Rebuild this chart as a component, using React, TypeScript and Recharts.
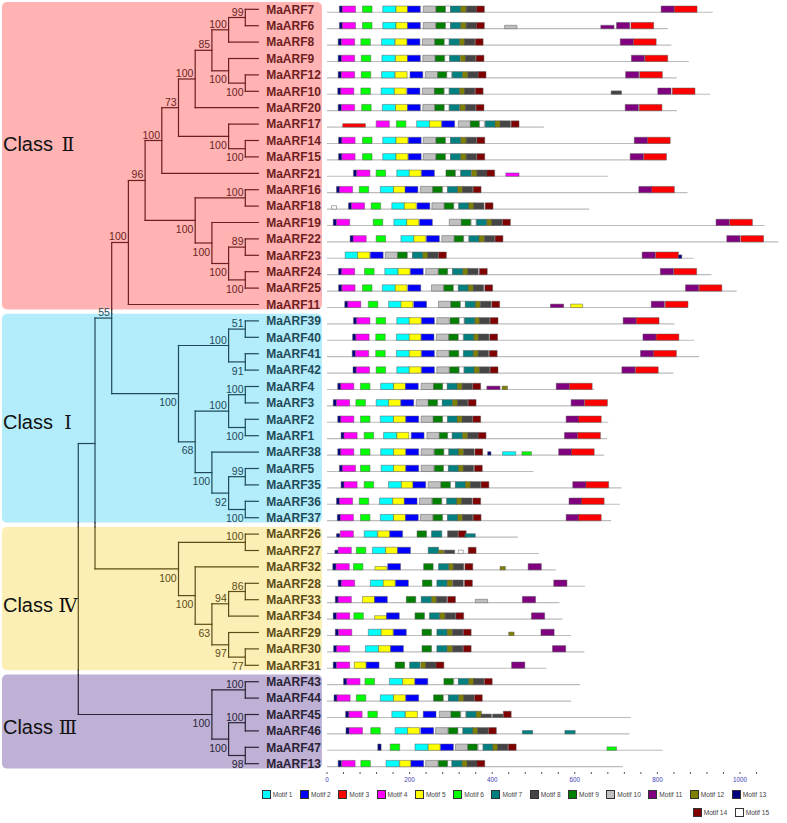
import React from 'react';
import { ComposedChart, XAxis, YAxis, ReferenceArea, ReferenceLine, Scatter, Legend } from 'recharts';

// ---------------- DATA ----------------
const GENES = ['MaARF7','MaARF6','MaARF8','MaARF9','MaARF12','MaARF10','MaARF20','MaARF17','MaARF14','MaARF15','MaARF21','MaARF16','MaARF18','MaARF19','MaARF22','MaARF23','MaARF24','MaARF25','MaARF11','MaARF39','MaARF40','MaARF41','MaARF42','MaARF4','MaARF3','MaARF2','MaARF1','MaARF38','MaARF5','MaARF35','MaARF36','MaARF37','MaARF26','MaARF27','MaARF32','MaARF28','MaARF33','MaARF34','MaARF29','MaARF30','MaARF31','MaARF43','MaARF44','MaARF45','MaARF46','MaARF47','MaARF13'];

const PROTEIN_LENGTHS = [934,825,834,876,847,928,847,525,831,822,680,873,635,1060,1093,888,931,992,874,841,889,901,839,647,678,681,678,671,500,713,709,688,462,513,554,625,563,570,591,623,531,613,591,736,732,813,716];

const MOTIF_IDS = [1,2,3,4,5,6,7,8,9,10,11,12,13,14,15];
const MOTIF_WIDTHS = [32,31,55,32,29,23,25,25,23,30,32,13,8,19,12];

// [motif, start, weak(1)]
const MOTIF_HITS: number[][][] = [
  /* MaARF7 */ [[13,30],[4,37],[6,86],[1,135],[5,167],[2,195],[10,233],[9,264],[15,287],[7,299],[12,324],[8,337],[14,362],[11,809],[3,841]],
  /* MaARF6 */ [[13,30],[4,37],[6,86],[1,135],[5,167],[2,195],[10,233],[9,264],[15,287],[7,299],[12,324],[8,337],[14,362],[10,430,1],[11,663,1],[11,701],[3,736]],
  /* MaARF8 */ [[13,27],[4,35],[6,82],[1,132],[5,165],[2,194],[10,231],[9,261],[15,284],[7,296],[12,321],[8,333],[14,359],[11,710],[3,742]],
  /* MaARF9 */ [[13,27],[4,35],[6,83],[1,133],[5,166],[2,195],[10,232],[9,262],[15,285],[7,297],[12,323],[8,335],[14,361],[11,737],[3,770]],
  /* MaARF12 */ [[13,27],[4,35],[6,83],[1,132],[5,165],[2,201],[10,238],[9,268],[15,290],[7,303],[12,328],[8,341],[14,366],[11,723],[3,757]],
  /* MaARF10 */ [[13,26],[4,33],[6,82],[1,131],[5,163],[2,194],[10,231],[9,260],[15,284],[7,296],[12,321],[8,333],[14,359],[8,688,1],[11,801],[3,836]],
  /* MaARF20 */ [[13,27],[4,35],[6,84],[1,134],[5,166],[2,195],[10,232],[9,261],[15,284],[7,296],[12,322],[8,335],[14,361],[11,722],[3,756]],
  /* MaARF17 */ [[3,38,1],[4,119],[6,168],[1,217],[5,248],[2,278],[10,318],[9,347],[15,369],[7,383],[12,407],[8,419],[14,446]],
  /* MaARF14 */ [[13,28],[4,36],[6,86],[1,135],[5,167],[2,197],[10,233],[9,264],[15,287],[7,299],[12,324],[8,337],[14,363],[11,744],[3,776]],
  /* MaARF15 */ [[13,28],[4,36],[6,86],[1,135],[5,167],[2,197],[10,233],[9,264],[15,287],[7,299],[12,324],[8,337],[14,363],[11,734],[3,767]],
  /* MaARF21 */ [[13,64],[4,72],[6,119],[1,169],[5,199],[2,229],[9,288],[15,311],[7,324],[12,350],[8,363],[14,387],[4,433,1]],
  /* MaARF16 */ [[13,23],[4,30],[6,78],[1,129],[5,161],[2,189],[10,226],[9,256],[15,280],[7,292],[12,316],[8,328],[14,354],[11,755],[3,786]],
  /* MaARF18 */ [[15,11,1],[13,52],[4,59],[6,107],[1,157],[5,187],[2,218],[10,254],[9,284],[15,307],[7,319],[12,343],[8,355],[14,383]],
  /* MaARF19 */ [[13,15],[4,23],[6,112],[1,162],[5,193],[2,224],[10,296],[9,325],[15,349],[7,362],[12,387],[8,399],[14,425],[11,942],[3,975]],
  /* MaARF22 */ [[13,56],[4,63],[6,119],[1,179],[5,210],[2,241],[10,278],[9,308],[15,331],[7,344],[12,368],[8,381],[14,407],[11,968],[3,1002]],
  /* MaARF23 */ [[1,44],[5,74],[2,105],[10,141],[9,171],[15,195],[7,207],[12,232],[8,244],[14,270],[11,763],[3,796],[13,851,1]],
  /* MaARF24 */ [[13,28],[4,35],[6,91],[1,140],[5,172],[2,202],[10,239],[9,270],[15,292],[7,304],[12,329],[8,341],[14,369],[11,807],[3,840]],
  /* MaARF25 */ [[13,28],[4,36],[6,86],[1,134],[5,165],[2,196],[10,253],[9,283],[15,306],[7,318],[12,342],[8,354],[14,382],[11,868],[3,901]],
  /* MaARF11 */ [[13,43],[4,50],[6,100],[1,149],[5,179],[2,210],[10,270],[9,300],[15,323],[7,335],[12,359],[8,372],[14,399],[11,541,1],[5,590,1],[11,785],[3,819]],
  /* MaARF39 */ [[13,64],[4,72],[6,119],[1,169],[5,199],[2,229],[10,266],[9,298],[15,320],[7,333],[12,358],[8,369],[14,395],[11,717],[3,749]],
  /* MaARF40 */ [[13,62],[4,70],[6,118],[1,168],[5,199],[2,228],[10,265],[9,295],[15,318],[7,331],[12,355],[8,367],[14,394],[11,765],[3,797]],
  /* MaARF41 */ [[13,61],[4,69],[6,118],[1,168],[5,199],[2,229],[10,266],[9,296],[7,330],[12,354],[8,366],[14,393],[11,759],[3,791]],
  /* MaARF42 */ [[13,63],[4,71],[6,119],[1,169],[5,199],[2,229],[10,266],[9,297],[15,320],[7,332],[12,356],[8,369],[14,395],[11,714],[3,747]],
  /* MaARF4 */ [[13,26],[4,33],[6,81],[1,130],[5,161],[2,190],[10,228],[9,258],[15,280],[7,291],[12,315],[8,327],[14,353],[11,387,1],[12,424,1],[11,555],[3,587]],
  /* MaARF3 */ [[13,15],[4,23],[6,70],[1,119],[5,149],[2,179],[10,216],[9,245],[15,268],[7,279],[12,304],[8,316],[14,342],[11,591],[3,624]],
  /* MaARF2 */ [[13,26],[4,33],[6,81],[1,129],[5,161],[2,191],[10,228],[9,257],[15,280],[7,292],[12,315],[8,327],[14,353],[11,579],[3,609]],
  /* MaARF1 */ [[13,34],[4,41],[6,90],[1,137],[5,169],[2,204],[10,242],[9,272],[15,292],[7,303],[12,328],[8,341],[14,366],[11,575],[3,607]],
  /* MaARF38 */ [[13,26],[4,33],[6,81],[1,130],[5,161],[2,191],[10,228],[9,260],[15,283],[7,295],[12,318],[8,331],[14,358],[13,389,1],[1,425,1],[6,472,1],[11,561],[3,592]],
  /* MaARF5 */ [[13,30],[4,37],[6,81],[1,131],[5,161],[2,191],[10,228],[9,260],[15,282],[7,294],[12,318],[8,330],[14,357]],
  /* MaARF35 */ [[13,34],[4,41],[6,90],[1,149],[5,180],[2,208],[10,245],[9,276],[15,299],[7,311],[12,335],[8,347],[14,373],[11,595],[3,627]],
  /* MaARF36 */ [[13,23],[4,30],[6,78],[1,127],[5,159],[2,187],[10,224],[9,255],[15,278],[7,290],[12,314],[8,326],[14,353],[11,586],[3,616]],
  /* MaARF37 */ [[13,25],[4,32],[6,81],[1,129],[5,161],[2,190],[10,226],[9,257],[15,280],[7,292],[12,316],[8,328],[14,354],[11,579],[3,609]],
  /* MaARF26 */ [[13,23,1],[4,32],[1,90],[5,123],[2,152],[9,218],[7,253],[8,292],[14,318],[7,334,1]],
  /* MaARF27 */ [[13,19,1],[4,27],[6,71],[1,110],[5,142],[2,171],[7,245],[12,270,1],[8,284,1],[15,318,1],[14,342]],
  /* MaARF32 */ [[13,14],[4,22],[6,64],[5,116,1],[2,147],[9,234],[7,270],[12,295],[8,306],[14,334],[12,419,1],[11,487]],
  /* MaARF28 */ [[13,27],[4,35],[1,105],[5,136],[2,166],[9,231],[7,266],[12,291],[8,305],[14,333],[11,549]],
  /* MaARF33 */ [[13,20],[4,27],[5,86],[2,115],[9,192],[7,228],[12,253],[8,265],[14,292],[10,359,1],[11,473]],
  /* MaARF34 */ [[13,15],[4,23],[6,65],[5,115,1],[2,144],[9,213],[7,248],[12,273],[8,286],[14,312],[11,495]],
  /* MaARF29 */ [[13,20],[4,28],[1,100],[5,131],[2,161],[9,230],[7,266],[12,291],[8,304],[14,330],[12,440,1],[11,518]],
  /* MaARF30 */ [[13,16],[4,23],[1,93],[5,125],[2,154],[9,230],[7,266],[12,291],[8,304],[14,330],[11,546]],
  /* MaARF31 */ [[13,15],[4,23],[5,66],[2,95],[9,165],[7,200],[12,227],[8,239],[14,264],[11,447]],
  /* MaARF43 */ [[13,40],[4,48],[6,92],[1,151],[5,183],[2,213],[9,283],[15,307],[7,318],[12,343],[8,355],[14,381]],
  /* MaARF44 */ [[13,17],[4,24],[6,71],[1,129],[5,161],[2,191],[9,258],[15,282],[7,294],[12,319],[8,331],[14,357]],
  /* MaARF45 */ [[13,45],[4,53],[6,99],[1,157],[5,190],[2,233],[10,272],[9,300],[15,324],[7,337],[12,361],[8,373,1],[8,401,1],[14,427]],
  /* MaARF46 */ [[13,46],[4,54],[6,106],[1,165],[5,195],[2,227],[10,263],[9,294],[15,317],[7,329],[12,353],[8,365],[14,391],[7,473,1],[7,576,1]],
  /* MaARF47 */ [[13,123],[6,153],[1,213],[5,245],[2,275],[10,311],[9,341],[15,366],[7,378],[12,401],[8,413],[14,439],[6,678,1]],
  /* MaARF13 */ [[13,27],[4,36],[6,82],[1,143],[5,176],[2,203],[10,239],[9,270],[15,292],[7,302],[12,327],[8,339],[14,363]],
];

const AXIS_TICKS = [0,40,80,120,160,200,240,280,320,360,400,440,480,520,560,600,640,680,720,760,800,840,880,920,960,1000,1040];

// tree: node depth (cladogram level), bootstrap, children
type TNode = { d: number; b: number | null; c: (TNode | string)[] };
const n = (d: number, b: number | null, ...c: (TNode | string)[]): TNode => ({ d, b, c });
const TREE: TNode = n(0, null,
  n(1, null,
    n(2, 55,
      n(3, 100,
        n(4, 96,
          n(5, 100,
            n(6, 73,
              n(7, 100,
                n(8, 85,
                  n(9, 100, n(10, 99, 'MaARF7', 'MaARF6'), 'MaARF8'),
                  n(9, 100, 'MaARF9', n(10, 100, 'MaARF12', 'MaARF10'))),
                'MaARF20'),
              n(9, 100, 'MaARF17', n(10, 100, 'MaARF14', 'MaARF15'))),
            'MaARF21'),
          n(7, 100,
            n(10, 100, 'MaARF16', 'MaARF18'),
            n(8, 100, 'MaARF19',
              n(9, 100, n(10, 89, 'MaARF22', 'MaARF23'), n(10, 100, 'MaARF24', 'MaARF25'))))),
        'MaARF11'),
      n(6, 100,
        n(9, 100, n(10, 51, 'MaARF39', 'MaARF40'), n(10, 91, 'MaARF41', 'MaARF42')),
        n(7, 68,
          n(9, 100, n(10, 100, 'MaARF4', 'MaARF3'), n(10, 100, 'MaARF2', 'MaARF1')),
          n(8, 100, 'MaARF38', n(9, 92, n(10, 99, 'MaARF5', 'MaARF35'), n(10, 100, 'MaARF36', 'MaARF37')))))),
    n(6, 100,
      n(10, 100, 'MaARF26', 'MaARF27'),
      n(7, 100, 'MaARF32',
        n(8, 63,
          n(9, 94, n(10, 86, 'MaARF28', 'MaARF33'), 'MaARF34'),
          n(9, 97, 'MaARF29', n(10, 77, 'MaARF30', 'MaARF31')))))),
  n(8, 100,
    n(10, 100, 'MaARF43', 'MaARF44'),
    n(9, 100, n(10, 100, 'MaARF45', 'MaARF46'), n(10, 98, 'MaARF47', 'MaARF13'))));

const CLASS_NUMERALS = ['Ⅱ', 'Ⅰ', 'Ⅳ', 'Ⅲ'];
const CLASS_FIRST = ['MaARF7', 'MaARF39', 'MaARF26', 'MaARF43'];
const CLASS_LAST = ['MaARF11', 'MaARF37', 'MaARF31', 'MaARF13'];

// ---------------- STYLE / LAYOUT ----------------
const W = 787, H = 823;
const MOTIF_COLORS = ['#00ffff','#0000ff','#ff0000','#ff00ff','#ffff00','#00ff00','#008080','#454545','#008000','#c0c0c0','#800080','#808000','#000080','#800000','#ffffff'];
const CLASS_BG = ['#ffb3b3', '#b3ecfa', '#fcefb5', '#bfb1d5'];
const CLASS_INK = ['#6e1e1e', '#1f4b59', '#5c4c16', '#2a2436'];
const GAP_INK = '#333333';
const CLASS_LABEL_ROWS = [8.19, 25.16, 36.32, 43.74];

const TX0 = 78.3, TDX = 16.7;
const TREE_DOMAIN: [number, number] = [-TX0 / TDX, (W - TX0) / TDX];
const MX0 = 327, MDX = 0.413;
const MOTIF_DOMAIN: [number, number] = [-MX0 / MDX, (W - MX0) / MDX];
const PLOT_BOTTOM = 772, AXIS_H = 16;
const ROW_TOP = 9.3, ROW_H = 16.4;
const ROW_DOMAIN: [number, number] = [-ROW_TOP / ROW_H, (PLOT_BOTTOM - ROW_TOP) / ROW_H];
const LEAF_X = 10.78, NAME_X = 11.25, LABEL_X = -4.51;
const BG_X: [number, number] = [-4.57, 14.59];

const rowOf = (g: string) => GENES.indexOf(g);
const REGIONS = CLASS_FIRST.map((f, i) => [rowOf(f) - 0.44, rowOf(CLASS_LAST[i]) + 0.3]);
const regionAt = (y: number) => REGIONS.findIndex(([a, b]) => y >= a && y <= b);
const inkAt = (y: number) => { const r = regionAt(y); return r < 0 ? GAP_INK : CLASS_INK[r]; };

type Seg = { x1: number; y1: number; x2: number; y2: number; c: string };
const SEGS: Seg[] = [];
const BOOTS: { x: number; y: number; b: number; below: boolean }[] = [];
const addH = (x1: number, x2: number, y: number) => SEGS.push({ x1, y1: y, x2, y2: y, c: inkAt(y) });
const addV = (x: number, ya: number, yb: number) => {
  const cuts = [ya];
  REGIONS.forEach(([a, b]) => { [a, b].forEach(v => { if (v > ya && v < yb) cuts.push(v); }); });
  cuts.push(yb);
  cuts.sort((p, q) => p - q);
  for (let i = 0; i < cuts.length - 1; i++) {
    SEGS.push({ x1: x, y1: cuts[i], x2: x, y2: cuts[i + 1], c: inkAt((cuts[i] + cuts[i + 1]) / 2) });
  }
};
function layout(node: TNode | string, parentD: number | null, isLast: boolean): number {
  if (typeof node === 'string') {
    const y = rowOf(node);
    if (parentD !== null) addH(parentD, LEAF_X, y);
    return y;
  }
  const ys = node.c.map((ch, i) => layout(ch, node.d, i === node.c.length - 1));
  const y = (ys[0] + ys[ys.length - 1]) / 2;
  addV(node.d, ys[0], ys[ys.length - 1]);
  if (parentD !== null) addH(parentD, node.d, y);
  if (node.b !== null) BOOTS.push({ x: node.d, y, b: node.b, below: isLast });
  return y;
}
layout(TREE, null, false);

const NAME_POINTS = GENES.map((g, i) => ({ x: NAME_X, y: i, name: g }));
const CLASS_POINTS = CLASS_NUMERALS.map((num, i) => ({ x: LABEL_X, y: CLASS_LABEL_ROWS[i], num, cls: i }));

const FONT = '"Liberation Sans", Arial, sans-serif';

const NameShape = (p: any) => (
  <text x={p.cx} y={p.cy + 4.3} fontFamily={FONT} fontWeight="bold" fontSize={12} fill={inkAt(p.payload.y)}>
    {p.payload.name}
  </text>
);
const BootShape = (p: any) => (
  <text x={p.cx - 1.8} y={p.payload.below ? p.cy + 12.6 : p.cy - 2} textAnchor="end" fontFamily={FONT} fontSize={10.5} fill={inkAt(p.payload.y)}>
    {p.payload.b}
  </text>
);
const ClassShape = (p: any) => (
  <g>
    <text x={p.cx} y={p.cy + 7} fontFamily={FONT} fontSize={20} fill="#111">Class</text>
    <text x={p.cx + 65} y={p.cy + 7} textAnchor="middle" fontFamily='"DejaVu Serif", "Liberation Serif", serif' fontSize={19} fill="#111">{p.payload.num}</text>
  </g>
);

const LEGEND_ROWS = [MOTIF_IDS.slice(0, 13), MOTIF_IDS.slice(13)];
const LEGEND_LEFT = [261.7, 692.7];
const LegendContent = () => (
  <div style={{ position: 'relative', width: W, height: 30, fontFamily: FONT, fontSize: 6.6, color: '#444' }}>
    {LEGEND_ROWS.map((row, r) => (
      <div key={r} style={{ position: 'absolute', left: LEGEND_LEFT[r], top: r * 17.8, display: 'flex', gap: 7.5, whiteSpace: 'nowrap', alignItems: 'center' }}>
        {row.map(m => (
          <div key={m} style={{ display: 'flex', alignItems: 'center' }}>
            <div style={{ width: 9, height: 9, boxSizing: 'border-box', border: '1px solid #333', background: MOTIF_COLORS[m - 1], marginRight: 2 }} />
            <div style={{ lineHeight: '9px' }}>Motif {m}</div>
          </div>
        ))}
      </div>
    ))}
  </div>
);

export default function App() {
  return (
    <div style={{ position: 'absolute', left: 0, top: 0, background: '#fff' }}>
      <ComposedChart width={W} height={H} margin={{ top: 0, right: 0, bottom: H - PLOT_BOTTOM - AXIS_H, left: 0 }}>
        <XAxis xAxisId="tree" dataKey="x" type="number" domain={TREE_DOMAIN} allowDataOverflow hide />
        <XAxis xAxisId="motif" dataKey="x" type="number" domain={MOTIF_DOMAIN} allowDataOverflow
          ticks={AXIS_TICKS} interval={0} height={AXIS_H} axisLine={false}
          tickSize={2} tickMargin={4} tickLine={{ stroke: '#555' }}
          tickFormatter={(v: number) => (v % 200 === 0 ? String(v) : '')}
          tick={{ fontSize: 6.3, fill: '#3c3cb4', fontFamily: FONT }} />
        <YAxis yAxisId="row" dataKey="y" type="number" domain={ROW_DOMAIN} allowDataOverflow reversed hide />

        {REGIONS.map(([a, b], i) => (
          <ReferenceArea key={'bg' + i} xAxisId="tree" yAxisId="row" x1={BG_X[0]} x2={BG_X[1]} y1={a} y2={b}
            fill={CLASS_BG[i]} fillOpacity={1} stroke="none"
            shape={(p: any) => <rect x={p.x} y={p.y} width={p.width} height={p.height} rx={5} ry={5} fill={CLASS_BG[i]} />} />
        ))}

        {PROTEIN_LENGTHS.map((len, i) => (
          <ReferenceArea key={'ln' + i} xAxisId="motif" yAxisId="row" x1={0} x2={len} y1={i + 0.145} y2={i + 0.215}
            fill="#bcbcbc" fillOpacity={1} stroke="none" />
        ))}

        {MOTIF_HITS.map((hits, i) => hits.map((h, j) => (
          <ReferenceArea key={'m' + i + '_' + j} xAxisId="motif" yAxisId="row"
            x1={h[1]} x2={h[1] + MOTIF_WIDTHS[h[0] - 1]}
            y1={h[2] ? i - 0.025 : i - 0.2} y2={i + 0.185}
            fill={MOTIF_COLORS[h[0] - 1]} fillOpacity={1} stroke="#5a5a5a" strokeWidth={0.5} />
        )))}

        {SEGS.map((s, k) => (
          <ReferenceLine key={'s' + k} xAxisId="tree" yAxisId="row"
            segment={[{ x: s.x1, y: s.y1 }, { x: s.x2, y: s.y2 }]}
            stroke={s.c} strokeWidth={1.2} strokeLinecap="square" />
        ))}

        <Scatter xAxisId="tree" yAxisId="row" data={NAME_POINTS} shape={NameShape} isAnimationActive={false} />
        <Scatter xAxisId="tree" yAxisId="row" data={BOOTS} shape={BootShape} isAnimationActive={false} />
        <Scatter xAxisId="tree" yAxisId="row" data={CLASS_POINTS} shape={ClassShape} isAnimationActive={false} />

        <Legend verticalAlign="middle" layout="horizontal" content={() => <LegendContent />}
          wrapperStyle={{ position: 'absolute', left: 0, top: 790, width: W, height: 30 }} />
      </ComposedChart>
    </div>
  );
}
